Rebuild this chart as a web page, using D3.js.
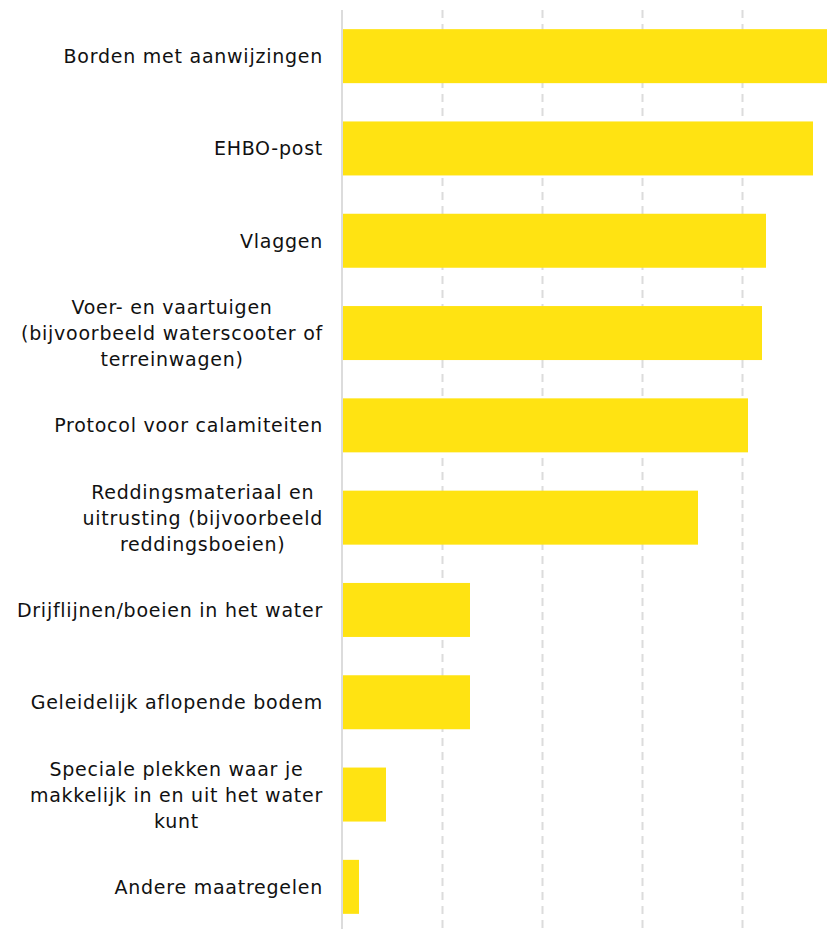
<!DOCTYPE html>
<html><head><meta charset="utf-8">
<script src="https://cdn.jsdelivr.net/npm/d3@7"></script>
<style>html,body{margin:0;padding:0;background:#fff;}svg{display:block;}</style>
</head><body>
<svg id="chart" width="835" height="929"></svg>
<script>
const categories = [
  "Borden met aanwijzingen",
  "EHBO-post",
  "Vlaggen",
  "Voer- en vaartuigen (bijvoorbeeld waterscooter of terreinwagen)",
  "Protocol voor calamiteiten",
  "Reddingsmateriaal en uitrusting (bijvoorbeeld reddingsboeien)",
  "Drijflijnen/boeien in het water",
  "Geleidelijk aflopende bodem",
  "Speciale plekken waar je makkelijk in en uit het water kunt",
  "Andere maatregelen"
];
const values = [48.5, 47.1, 42.4, 42.0, 40.6, 35.6, 12.8, 12.8, 4.4, 1.7];
const gridTicks = [10, 20, 30, 40];

const svg = d3.select("#chart");
const W = 835, H = 929;
const x = d3.scaleLinear().domain([0, 49.3]).range([342, 835]);
const y = d3.scaleBand().domain(categories).range([10, 933]).paddingInner(0.415).paddingOuter(0.2075);

// gridlines
svg.append("g").selectAll("line").data(gridTicks).join("line")
  .attr("x1", d => x(d) + 0.5).attr("x2", d => x(d) + 0.5)
  .attr("y1", 10).attr("y2", H)
  .attr("stroke", "#dcdcdc").attr("stroke-width", 2)
  .attr("stroke-dasharray", "8,6");
svg.append("line")
  .attr("x1", x(0)).attr("x2", x(0)).attr("y1", 10).attr("y2", H)
  .attr("stroke", "#dcdcdc").attr("stroke-width", 2);

// bars
svg.append("g").selectAll("rect").data(categories).join("rect")
  .attr("x", x(0) + 1)
  .attr("y", d => y(d))
  .attr("height", y.bandwidth())
  .attr("width", (d, i) => x(values[i]) - x(0) - 1)
  .attr("fill", "#FFE312");

// labels
const labelRight = 323, maxW = 320, lineH = 26;
const lg = svg.append("g")
  .attr("font-family", "'DejaVu Sans', Verdana, sans-serif")
  .attr("font-size", 19).attr("letter-spacing", 0.75).attr("fill", "#111");
const measurer = lg.append("text").attr("visibility", "hidden");
function tw(s) { measurer.text(s); return measurer.node().getComputedTextLength(); }
categories.forEach(cat => {
  const words = cat.split(" ");
  const lines = [];
  let cur = "";
  words.forEach(w => {
    const t = cur ? cur + " " + w : w;
    if (cur && tw(t) > maxW) { lines.push(cur); cur = w; } else cur = t;
  });
  lines.push(cur);
  const widest = d3.max(lines, tw);
  const cx = labelRight - widest / 2;
  const cy = y(cat) + y.bandwidth() / 2;
  const t = lg.append("text").attr("text-anchor", "middle").attr("dominant-baseline", "central");
  lines.forEach((l, i) => {
    t.append("tspan").attr("x", cx).attr("y", cy + (i - (lines.length - 1) / 2) * lineH).text(l);
  });
});
measurer.remove();
</script>
</body></html>
